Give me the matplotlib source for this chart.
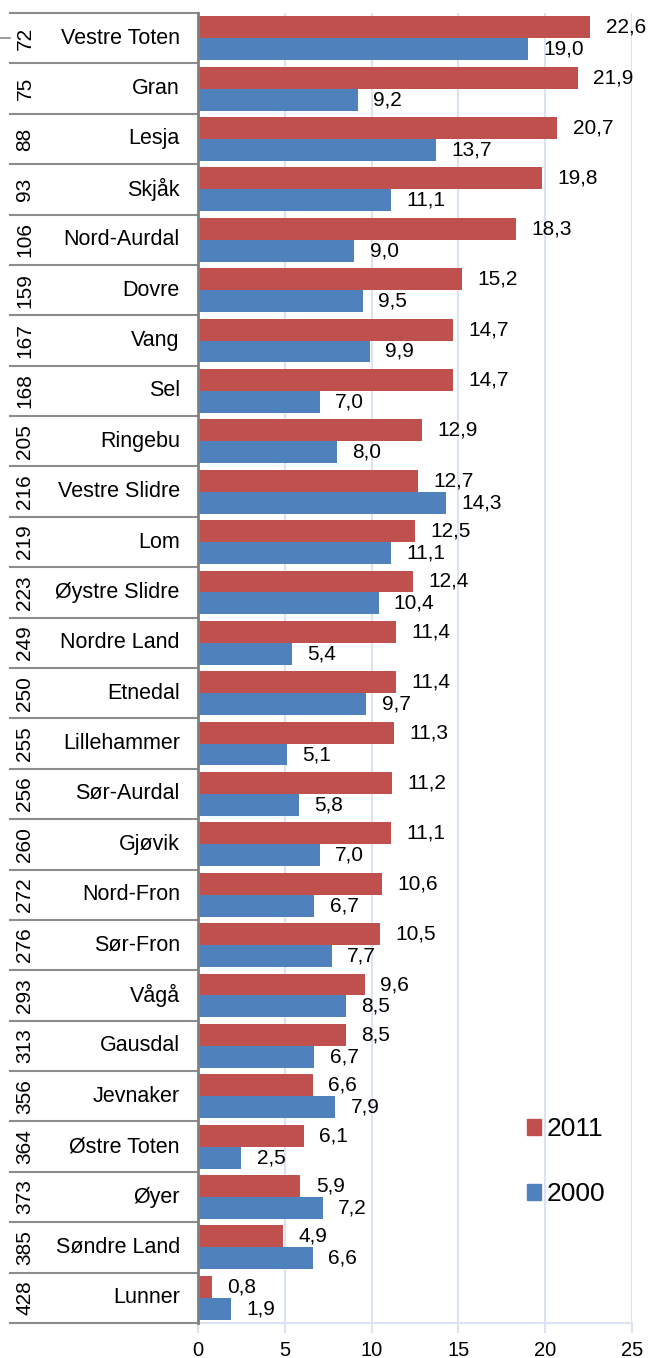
import numpy as np
import matplotlib.pyplot as plt
from matplotlib.lines import Line2D
from matplotlib.patches import Patch

plt.rcParams['font.family'] = ['Liberation Sans', 'DejaVu Sans']

# Data
names = ['Vestre Toten', 'Gran', 'Lesja', 'Skjåk', 'Nord-Aurdal', 'Dovre', 'Vang',
         'Sel', 'Ringebu', 'Vestre Slidre', 'Lom', 'Øystre Slidre', 'Nordre Land',
         'Etnedal', 'Lillehammer', 'Sør-Aurdal', 'Gjøvik', 'Nord-Fron', 'Sør-Fron',
         'Vågå', 'Gausdal', 'Jevnaker', 'Østre Toten', 'Øyer', 'Søndre Land', 'Lunner']
ranks = [72, 75, 88, 93, 106, 159, 167, 168, 205, 216, 219, 223, 249, 250, 255,
         256, 260, 272, 276, 293, 313, 356, 364, 373, 385, 428]
v2011 = [22.6, 21.9, 20.7, 19.8, 18.3, 15.2, 14.7, 14.7, 12.9, 12.7, 12.5, 12.4,
         11.4, 11.4, 11.3, 11.2, 11.1, 10.6, 10.5, 9.6, 8.5, 6.6, 6.1, 5.9, 4.9, 0.8]
v2000 = [19.0, 9.2, 13.7, 11.1, 9.0, 9.5, 9.9, 7.0, 8.0, 14.3, 11.1, 10.4,
         5.4, 9.7, 5.1, 5.8, 7.0, 6.7, 7.7, 8.5, 6.7, 7.9, 2.5, 7.2, 6.6, 1.9]
series_labels = ['2011', '2000']
xticks = [0, 5, 10, 15, 20, 25]

RED = '#C0504D'
BLUE = '#4F81BD'
GRID = '#D9E3F1'
LINE = '#8C8C8C'

fig = plt.figure(figsize=(6.5, 13.58), dpi=100)
ax = fig.add_axes([0.3046, 0.0258, 0.6677, 0.9646])

y = np.arange(len(names))
h = 0.435
ax.barh(y - h / 2, v2011, height=h, color=RED, zorder=3)
ax.barh(y + h / 2, v2000, height=h, color=BLUE, zorder=3)

def fmt(v):
    return f'{v:.1f}'.replace('.', ',')

for i in range(len(names)):
    ax.annotate(fmt(v2011[i]), (v2011[i], y[i] - h / 2), xytext=(11, 0),
                textcoords='offset points', va='center', ha='left', fontsize=15)
    ax.annotate(fmt(v2000[i]), (v2000[i], y[i] + h / 2), xytext=(11, 0),
                textcoords='offset points', va='center', ha='left', fontsize=15)

ax.set_xlim(0, 25)
ax.set_ylim(len(names) - 0.5, -0.5)
ax.set_xticks(xticks)
ax.set_xticklabels([str(t) for t in xticks], fontsize=14.5)
ax.tick_params(axis='x', colors=GRID, length=7, width=1.5, labelcolor='black', pad=6)
ax.set_yticks([])
ax.grid(axis='x', color=GRID, linewidth=1.5, zorder=0)

for s in ['top', 'right']:
    ax.spines[s].set_visible(False)
ax.spines['bottom'].set_color(GRID)
ax.spines['bottom'].set_linewidth(1.5)
ax.spines['left'].set_color('#7F7F7F')
ax.spines['left'].set_linewidth(2)
ax.spines['left'].set_zorder(4)

# table-like label column on the left
tr = ax.get_yaxis_transform()
x_left = (10 - 198) / 434
for b in np.arange(-0.5, len(names), 1.0):
    ax.add_line(Line2D([x_left, 0], [b, b], transform=tr, color=LINE,
                       linewidth=1.5, clip_on=False))
ax.add_line(Line2D([-198 / 434, x_left], [0, 0], transform=tr, color=LINE,
                   linewidth=1.2, clip_on=False))

for i, (n, r) in enumerate(zip(names, ranks)):
    ax.text(-0.042, i, n, transform=tr, ha='right', va='center', fontsize=15.5)
    ax.text((25 - 198) / 434, i, str(r), transform=tr, ha='center', va='center',
            rotation=90, fontsize=15)

handles = [Patch(color=RED), Patch(color=BLUE)]
ax.legend(handles, series_labels, loc='center left', bbox_to_anchor=(0.704, 0.123),
          frameon=False, fontsize=19, handlelength=0.53, handleheight=0.53,
          handletextpad=0.2, labelspacing=1.55)

fig.savefig('out.png', dpi=100)
